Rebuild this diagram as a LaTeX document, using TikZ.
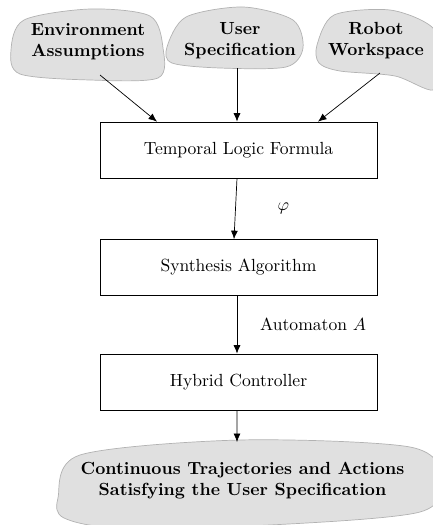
\documentclass[tikz,border=0pt]{standalone}
\usepackage{tikz}
\usetikzlibrary{arrows.meta}

\begin{document}
\begin{tikzpicture}[x=0.02cm, y=-0.02cm,
    blob/.style={fill=black!12, draw=black!30, line width=0.4pt},
    blobtext/.style={font=\bfseries, align=center, inner sep=0pt},
    stage/.style={draw, minimum width=5.54cm, minimum height=1.12cm},
    every path/.style={>={Latex[length=1.7mm, width=1.4mm]}}]
        \useasboundingbox (0,0) rectangle (433,525);
        % input clouds
        \path[blob] plot[smooth cycle] coordinates {(11,50) (24,20) (90,9) (150,16) (163,48) (158,78) (90,80) (20,74)};
        \path[blob] plot[smooth cycle] coordinates {(167,47) (186,17) (243,7) (293,20) (303,48) (286,67) (220,68) (172,63)};
        \path[blob] plot[smooth cycle] coordinates {(317,45) (334,15) (390,10) (432,27) (446,60) (434,90) (395,76) (340,71) (319,63)};
        \path[blob] plot[smooth cycle] coordinates {(58,498) (80,455) (240,440) (410,447) (443,478) (420,512) (270,525) (120,528) (64,518)};
        \node[blobtext] (env) at (88,42) {Environment\\Assumptions};
        \node[blobtext] (user) at (240,41) {User\\Specification};
        \node[blobtext] (robot) at (376,41) {Robot\\Workspace};
        \coordinate (env-b) at (100,75);
        \coordinate (user-b) at (237,68);
        \coordinate (robot-b) at (380,73);
        % main chain
        \node[stage] (tlf) at (238.5,150) {Temporal Logic Formula};
        \node[stage] (syn) at (238.5,267.5) {Synthesis Algorithm};
        \node[stage] (hyb) at (238.5,382) {Hybrid Controller};
        \node[blobtext] (out) at (242.5,481) {Continuous Trajectories and Actions\\Satisfying the User Specification};
        \coordinate (out-t) at (237,442);
        % arrows
        \draw[->] (env-b) -- ([xshift=-1.63cm]tlf.north);
        \draw[->] (user-b) -- (user-b |- tlf.north);
        \draw[->] (robot-b) -- ([xshift=1.59cm]tlf.north);
        \draw[->] ([xshift=-0.03cm]tlf.south) -- ([xshift=-0.09cm]syn.north)
            node[midway, right=0.72cm] {$\varphi$};
        \draw[->] ([xshift=-0.03cm]syn.south) -- ([xshift=-0.03cm]hyb.north)
            node[midway, right=0.34cm] {Automaton $A$};
        \draw[->] ([xshift=-0.03cm]hyb.south) -- (out-t);
\end{tikzpicture}
\end{document}
